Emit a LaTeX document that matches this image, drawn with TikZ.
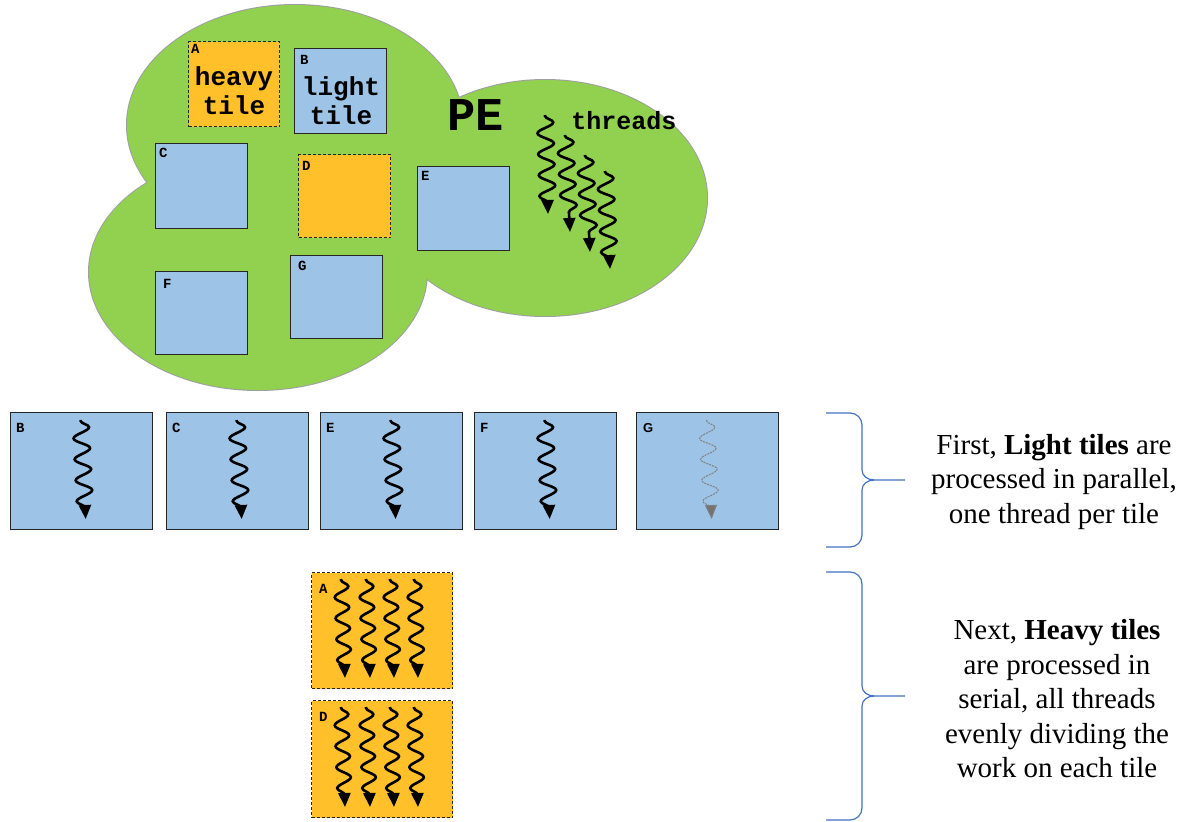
\documentclass[tikz,border=0pt]{standalone}
\usepackage{fontspec}
\setmainfont{Liberation Serif}
\newfontfamily\cour{Liberation Mono}
\newfontfamily\arialf{Liberation Sans}
\usetikzlibrary{decorations.pathmorphing,arrows.meta}
\definecolor{peGreen}{HTML}{92D050}
\definecolor{tileBlue}{HTML}{9DC3E6}
\definecolor{tileOrange}{HTML}{FFC02A}
\definecolor{braceBlue}{HTML}{4472C4}
\tikzset{
  lighttile/.style={draw=black!85, line width=1.3pt, fill=tileBlue, inner sep=0pt, anchor=north west},
  heavytile/.style={draw=black!85, line width=1.3pt, dash pattern=on 3pt off 2pt, fill=tileOrange, inner sep=0pt, anchor=north west},
  lab/.style={font=\cour\bfseries\fontsize{14}{14}\selectfont, inner sep=0pt, anchor=north west},
  bigtxt/.style={font=\cour\bfseries\fontsize{26}{29}\selectfont, align=center, inner sep=0pt},
  thread/.style={-{Triangle[length=14pt,width=12pt]}, line width=2.6pt, decorate,
     decoration={snake, amplitude=#1, segment length=21pt, pre length=1pt, post length=10pt}},
  thread/.default=8pt,
  gthread/.style={-{Triangle[length=14pt,width=12pt,fill=gray!90!black]}, draw=gray, line width=1pt, dash pattern=on 2pt off 1pt, decorate,
     decoration={snake, amplitude=8pt, segment length=21pt, pre length=1pt, post length=10pt}},
  note/.style={font=\fontsize{29}{34.5}\selectfont, align=center, inner sep=0pt},
  brace/.style={draw=braceBlue, line width=1.2pt}
}
\begin{document}
\begin{tikzpicture}[x=1pt,y=-1pt]
\useasboundingbox[fill=white] (0,0) rectangle (1187,822);
% PE cloud
\draw[gray!75, line width=2pt] (545,198) ellipse [x radius=162, y radius=118];
\draw[gray!75, line width=2pt] (295,125) ellipse [x radius=168, y radius=120];
\draw[gray!75, line width=2pt] (258,272) ellipse [x radius=169, y radius=118];
\fill[peGreen] (545,198) ellipse [x radius=162, y radius=118];
\fill[peGreen] (295,125) ellipse [x radius=168, y radius=120];
\fill[peGreen] (258,272) ellipse [x radius=169, y radius=118];
% tiles in cloud
\node[heavytile, minimum width=91pt, minimum height=85pt] (A) at (188,41) {};
\node[lighttile, minimum width=92pt, minimum height=85pt] (B) at (294,48) {};
\node[lighttile, minimum width=92pt, minimum height=85pt] (C) at (155,143) {};
\node[heavytile, minimum width=92pt, minimum height=83pt] (D) at (298,154) {};
\node[lighttile, minimum width=92pt, minimum height=84pt] (E) at (417,166) {};
\node[lighttile, minimum width=92pt, minimum height=83pt] (F) at (155,271) {};
\node[lighttile, minimum width=92pt, minimum height=83pt] (G) at (290,255) {};
\node[lab] (Al) at ([shift={(3,3)}]A.north west) {A};
\node[lab] (Bl) at ([shift={(6,7)}]B.north west) {B};
\node[lab] (Cl) at ([shift={(4,5)}]C.north west) {C};
\node[lab] (Dl) at ([shift={(4,7)}]D.north west) {D};
\node[lab] (El) at ([shift={(4,5)}]E.north west) {E};
\node[lab] (Fl) at ([shift={(8,8)}]F.north west) {F};
\node[lab] (Gl) at ([shift={(8,6)}]G.north west) {G};
\node[bigtxt] (Atxt) at (234,91) {heavy\\tile};
\node[bigtxt] (Btxt) at (341,101) {light\\tile};
\node[font=\cour\bfseries\fontsize{47}{47}\selectfont, inner sep=0pt] (PE) at (476,115) {PE};
\node[font=\cour\bfseries\fontsize{25}{25}\selectfont, inner sep=0pt] (thr) at (624,121) {threads};
% threads in cloud
\coordinate (s1) at (545,115); \coordinate (e1) at (548,214);
\coordinate (s2) at (565,135); \coordinate (e2) at (570,232);
\coordinate (s3) at (585,155); \coordinate (e3) at (590,252);
\coordinate (s4) at (605,171); \coordinate (e4) at (610,269);
\foreach \i in {1,...,4} { \draw[thread] (s\i) -- (e\i); }
% light tiles row
\foreach \n/\x in {lb/10, lc/166, le/320, lf/474, lg/636} {
  \node[lighttile, minimum width=142pt, minimum height=117pt] (\n) at (\x,412) {};
}
\node[lab] at ([shift={(6,11)}]lb.north west) {B};
\node[lab] at ([shift={(6,11)}]lc.north west) {C};
\node[lab] at ([shift={(6,11)}]le.north west) {E};
\node[lab] at ([shift={(6,11)}]lf.north west) {F};
\node[lab, font=\arialf\bfseries\fontsize{13}{13}\selectfont] at ([shift={(7,11)}]lg.north west) {G};
\foreach \n in {lb, lc, le, lf} {
  \coordinate (\n s) at ([shift={(-1,8)}]\n.north);
  \coordinate (\n e) at ([shift={(4,107)}]\n.north);
  \draw[thread=8pt] (\n s) -- (\n e);
}
\coordinate (lgs) at ([shift={(-1,8)}]lg.north);
\coordinate (lge) at ([shift={(4,107)}]lg.north);
\draw[gthread] (lgs) -- (lge);
% heavy tiles row
\node[heavytile, minimum width=141pt, minimum height=116pt] (ha) at (311,572) {};
\node[heavytile, minimum width=141pt, minimum height=117pt] (hd) at (311,700) {};
\node[lab] at ([shift={(8,12)}]ha.north west) {A};
\node[lab] at ([shift={(8,12)}]hd.north west) {D};
\foreach \j/\x in {1/341, 2/366, 3/390, 4/414} {
  \coordinate (has\j) at (\x,579); \coordinate (hae\j) at (\x+4,678);
  \draw[thread=7pt] (has\j) -- (hae\j);
  \coordinate (hds\j) at (\x,707); \coordinate (hde\j) at (\x+4,807);
  \draw[thread=7pt] (hds\j) -- (hde\j);
}
% braces
\draw[brace] (826,413) -- (850,413) to[out=0,in=90] (862,425) -- (862,470) to[out=-90,in=180] (874,480) -- (905,480);
\draw[brace] (874,480) to[out=180,in=90] (862,490) -- (862,535) to[out=-90,in=0] (850,547) -- (826,547);
\draw[brace] (826,572) -- (850,572) to[out=0,in=90] (862,584) -- (862,686) to[out=-90,in=180] (874,696) -- (905,696);
\draw[brace] (874,696) to[out=180,in=90] (862,706) -- (862,808) to[out=-90,in=0] (850,820) -- (826,820);
% notes
\node[note] (n1) at (1054,482) {First, \textbf{Light tiles} are\\processed in parallel,\\one thread per tile};
\node[note] (n2) at (1057,699) {Next, \textbf{Heavy tiles}\\are processed in\\serial, all threads\\evenly dividing the\\work on each tile};
\end{tikzpicture}
\end{document}
